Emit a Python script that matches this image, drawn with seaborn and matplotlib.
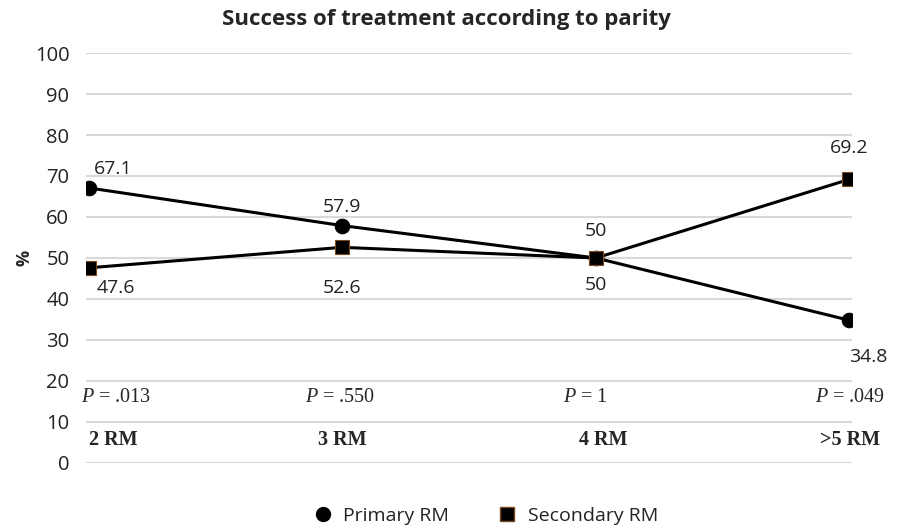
import seaborn as sns
import pandas as pd
import matplotlib.pyplot as plt
from matplotlib.lines import Line2D

# Data
categories = ["2 RM", "3 RM", "4 RM", ">5 RM"]
primary = [67.1, 57.9, 50, 34.8]
secondary = [47.6, 52.6, 50, 69.2]
p_values = ["$P$ = .013", "$P$ = .550", "$P$ = 1", "$P$ = .049"]

df = pd.DataFrame({
    "pos": list(range(len(categories))) * 2,
    "value": primary + secondary,
    "group": ["Primary RM"] * 4 + ["Secondary RM"] * 4,
})

sns.set_theme(style="white")
plt.rcParams["font.family"] = ["Open Sans", "DejaVu Sans"]
plt.rcParams["mathtext.fontset"] = "custom"
plt.rcParams["mathtext.it"] = "Liberation Serif:italic"
plt.rcParams["mathtext.rm"] = "Liberation Serif"

fig = plt.figure(figsize=(8.98, 5.29), dpi=100)
ax = fig.add_axes([0.0958, 0.1248, 0.853, 0.775])

ax.set_yticks(range(0, 101, 10))
ax.grid(axis="y", color="#d9d9d9", linewidth=1.5)
ax.set_axisbelow(True)

sns.lineplot(
    data=df, x="pos", y="value", hue="group", style="group",
    markers={"Primary RM": "o", "Secondary RM": "s"}, dashes=False,
    palette={"Primary RM": "black", "Secondary RM": "black"},
    linewidth=2.2, markersize=10.5, legend=False, ax=ax,
)
# square markers have a thin brown edge
for line in ax.lines:
    if line.get_marker() == "s":
        line.set_markeredgecolor("#7a4a1e")
        line.set_markeredgewidth(0.8)
    else:
        line.set_markeredgecolor("black")

ax.set_xlim(-0.01, 3.01)
ax.set_ylim(0, 100)
ax.set_xticks([])
ax.set_xlabel("")
ax.set_ylabel("%", fontsize=13, fontweight="bold", labelpad=1)
ax.tick_params(axis="y", length=0, labelsize=14.5, labelcolor="#222222", pad=12)
sns.despine(left=True, bottom=True)

# Data labels
lab = dict(fontsize=14, color="#222222")
ax.text(0.02, primary[0] + 4.6, f"{primary[0]:g}", ha="left", va="center", **lab)
ax.text(1, primary[1] + 4.5, f"{primary[1]:g}", ha="center", va="center", **lab)
ax.text(2, primary[2] + 6.6, f"{primary[2]:g}", ha="center", va="center", **lab)
ax.text(3.0, primary[3] - 8.9, f"{primary[3]:g}", ha="left", va="center", **lab)
ax.text(0.03, secondary[0] - 4.9, f"{secondary[0]:g}", ha="left", va="center", **lab)
ax.text(1, secondary[1] - 9.9, f"{secondary[1]:g}", ha="center", va="center", **lab)
ax.text(2, secondary[2] - 6.6, f"{secondary[2]:g}", ha="center", va="center", **lab)
ax.text(3, secondary[3] + 7.6, f"{secondary[3]:g}", ha="center", va="center", **lab)

# Category and P-value labels inside the plot
serif = ["Liberation Serif", "DejaVu Serif"]
has = ["left", "center", "center", "right"]
xs = [0.0, 1.0, 2.03, 3.12]
for i, c in enumerate(categories):
    ax.text(xs[i], 5.6, c, ha=has[i], va="center", fontsize=14.5,
            fontweight="bold", family=serif)
pxs = [-0.03, 0.99, 1.96, 3.14]
for i, p in enumerate(p_values):
    ax.text(pxs[i], 15.9, p, ha=has[i], va="center", fontsize=14.5, family=serif)

ax.set_title("Success of treatment according to parity", fontsize=16,
             fontweight="bold", pad=20, x=0.471)

handles = [
    Line2D([], [], marker="o", color="black", linestyle="none", markersize=10),
    Line2D([], [], marker="s", color="black", markeredgecolor="#7a4a1e",
           linestyle="none", markersize=9.5),
]
fig.legend(handles, ["Primary RM", "Secondary RM"], loc="center",
           ncol=2, frameon=False, fontsize=14, bbox_to_anchor=(0.535, 0.025),
           handletextpad=0.05, columnspacing=2.0, labelcolor="#222222")

fig.savefig("out.png", dpi=100)
